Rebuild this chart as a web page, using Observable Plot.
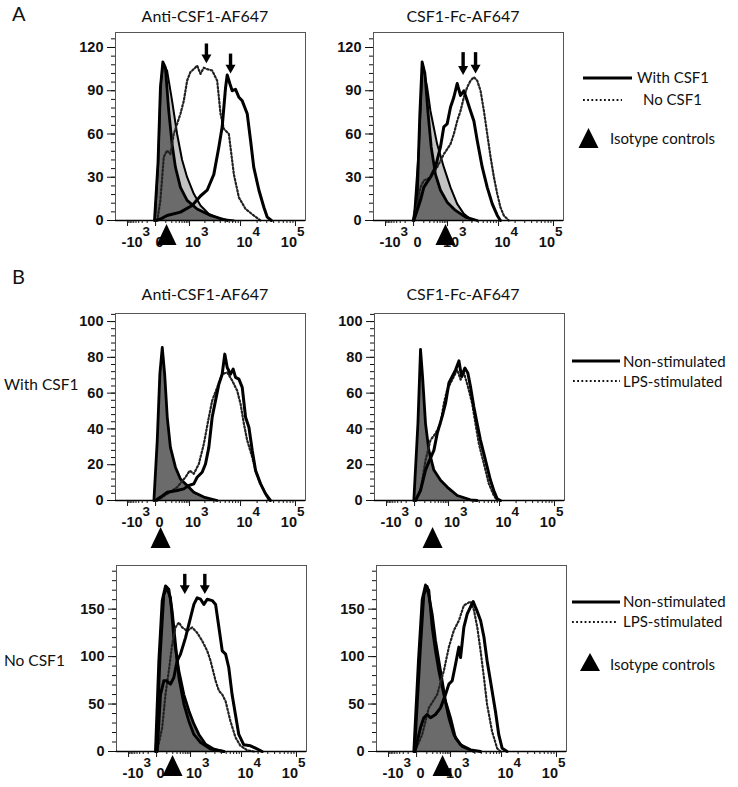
<!DOCTYPE html>
<html><head><meta charset="utf-8">
<script src="https://cdn.jsdelivr.net/npm/d3@7"></script>
<script src="https://cdn.jsdelivr.net/npm/@observablehq/plot@0.6"></script>
<style>
body{margin:0;background:#fff;}
#fig{position:relative;width:738px;height:787px;overflow:hidden;background:#fff;}
#fig > svg{position:absolute;overflow:visible;}
</style></head><body><div id="fig"></div>
<script>
// ---------- axis definitions (FlowJo-style biexponential display channels 0..1024) ----------
const xTickChannels = [65, 216, 399, 674, 970];
const xTickBase = ["-10", "0", "10", "10", "10"];
const xTickExp = ["3", "", "3", "4", "5"];

const yTicksA = [0, 30, 60, 90, 120];
const yTicksBtop = [0, 20, 40, 60, 80, 100];
const yTicksBbot = [0, 50, 100, 150];

// ---------- histogram data: [channel, count] ----------
// Panel A, Anti-CSF1-AF647
const aL_isoDark = [[210,0],[229,40],[242,92],[255,110],[269,106],[287,76],[305,53],[323,37],[350,23],[386,14],[440,8],[512,3.5],[602,0]];
const aL_isoLight = [[212,0],[230,40],[244,95],[257,108],[278,104],[305,83],[332,60],[359,42],[386,30],[422,18.5],[458,10.4],[503,4.6],[566,1],[638,0]];
const aL_withCSF1 = [[216,0],[242,1],[278,3.5],[350,5.8],[413,10.4],[458,17],[494,21],[530,32],[557,51],[575,65],[593,92],[602,101],[616,95],[629,90],[647,91],[665,85.5],[683,83],[710,74],[728,55.5],[745,37],[773,21],[800,9],[818,2.3],[840,0]];
const aL_noCSF1 = [[225,0],[242,14],[260,44],[278,48.6],[296,46],[314,60],[332,67],[350,74],[368,83],[386,97],[404,103],[422,105],[440,107.5],[458,101.7],[476,106],[494,105],[521,104],[548,97],[566,74],[584,63.6],[611,60],[638,32],[665,16],[701,8],[745,3.5],[781,0]];
const aL_arrows = [{x:490, top:120, tip:109}, {x:620, top:113, tip:102}];

// Panel A, CSF1-Fc-AF647
const aR_isoDark = [[214,0],[235,14],[249,72],[262,110],[277,102],[293,76],[311,51],[334,32],[361,21],[397,12.7],[442,7],[496,2.3],[559,0]];
const aR_isoLight = [[217,0],[244,48.6],[265,108.7],[289,92.5],[307,76],[343,53],[379,37],[415,23],[451,11.5],[487,4.6],[532,0]];
const aR_withCSF1 = [[217,0],[253,14],[271,23],[289,26.6],[307,30],[334,37],[361,51],[379,65],[397,67],[415,78.6],[433,85.5],[451,95],[469,86.7],[487,90],[505,83],[523,76],[541,69],[559,55.5],[586,37],[613,23],[640,11.5],[667,3.5],[684,0]];
const aR_noCSF1 = [[220,0],[253,23],[271,27.7],[307,30],[343,37],[379,46],[415,53],[433,60],[451,69],[469,76],[487,85.5],[505,92.5],[523,97],[541,99.4],[559,97],[577,90],[595,76],[613,60],[631,44],[649,30],[667,18.5],[684,9.2],[702,3.5],[729,0]];
const aR_arrows = [{x:483, top:114, tip:101}, {x:550, top:114, tip:102}];

// Panel B, With CSF1, Anti-CSF1-AF647
const bTL_iso = [[207,0],[225,33.5],[239,70.6],[252,85.5],[265,70.6],[279,46.5],[296,29.7],[323,18.6],[350,12],[386,8.4],[422,4.6],[476,1.9],[548,0]];
const bTL_non = [[216,0],[243,1.9],[279,4.6],[332,5.6],[368,6.5],[395,8.4],[422,9.3],[440,13],[467,15.8],[485,20.4],[503,29.7],[521,46.5],[539,55.8],[557,65],[575,70.6],[589,81.8],[602,74.3],[620,70.6],[634,73.4],[647,68.8],[665,67.8],[683,63.2],[701,46.5],[719,40.9],[737,27.9],[755,16.7],[782,9.3],[809,3.7],[835,0]];
const bTL_lps = [[225,0],[279,3.7],[332,7.4],[377,13],[400,16.7],[422,14.9],[449,20.4],[476,31.6],[503,46.5],[521,55.8],[548,63.2],[575,70.6],[602,71.6],[629,67],[656,61.3],[674,54],[692,42.8],[710,33.5],[737,24.2],[755,16.7],[782,9.3],[809,3.7],[827,0]];

// Panel B, With CSF1, CSF1-Fc-AF647
const bTR_iso = [[212,0],[234,43],[248,84.4],[259,69.4],[275,43],[293,28],[320,17],[356,11.3],[392,7.5],[446,2.8],[517,0.4],[553,0]];
const bTR_non = [[221,0],[248,5.6],[275,17],[293,21.6],[320,28],[338,37.5],[365,47],[383,54.4],[401,65.7],[419,69.4],[437,73],[455,78],[469,69.4],[487,74],[503,71.3],[517,63.8],[535,52.5],[553,43],[571,33.8],[589,26.3],[607,18.8],[625,11.3],[643,5.6],[661,1],[679,0]];
const bTR_lps = [[221,0],[248,5.6],[275,22.5],[302,33.8],[329,37.5],[356,43],[374,54.4],[392,62],[419,67.5],[446,73],[464,67.5],[482,71.3],[503,63.8],[526,54.4],[544,43],[562,32],[580,24.4],[598,17],[616,9.4],[643,2.8],[661,0]];

// Panel B, No CSF1, Anti-CSF1-AF647
const bBL_iso1 = [[210,0],[228,95.5],[246,159],[264,174.6],[282,171],[300,148],[318,113],[336,78],[363,50],[390,32],[417,18],[453,9.5],[507,2.5],[579,0]];
const bBL_iso2 = [[213,0],[235,100],[255,165],[270,172.8],[291,162],[309,120],[336,85],[363,60],[390,43],[417,29],[444,18],[480,7.7],[525,2.5],[579,0]];
const bBL_non = [[219,0],[237,60],[255,74.5],[270,74.5],[291,71],[309,78],[327,95.5],[345,102.6],[372,120],[399,141],[417,155],[435,162],[453,160.5],[471,155],[489,160.5],[516,159],[534,155],[552,130.7],[570,106],[588,102.6],[605,88.5],[623,60],[641,39],[659,18],[686,7],[722,6],[749,3.5],[785,0]];
const bBL_lps = [[219,0],[246,25],[264,60],[282,85],[300,113],[318,130.7],[336,136],[354,130.7],[381,127],[408,130.7],[435,125],[462,116.6],[489,106],[507,95.5],[534,74.5],[552,64],[570,60],[588,53],[614,32],[641,15],[668,6],[704,1.4],[740,0]];
const bBL_arrows = [{x:368, top:183, tip:166}, {x:476, top:183, tip:166}];

// Panel B, No CSF1, CSF1-Fc-AF647
const bBR_iso1 = [[201,0],[226,96],[246,160],[264,175.5],[282,170],[300,131],[318,106],[336,85],[363,60],[390,35.5],[417,17.7],[453,7],[507,1.8],[561,0]];
const bBR_iso2 = [[205,0],[237,110],[255,165],[273,174],[300,145],[318,117],[345,85],[372,53],[399,35.5],[426,14],[462,5.3],[525,0]];
const bBR_non = [[207,0],[237,25],[255,35.5],[273,39],[291,35.5],[318,39],[345,46],[372,60],[390,71],[408,74.5],[426,92],[444,110],[453,99],[471,131],[489,145],[507,152.5],[521,158],[540,149],[561,138],[579,120.6],[596,95.7],[614,74.5],[641,42.5],[659,17.7],[677,3.5],[704,0]];
const bBR_lps = [[207,0],[246,17.7],[282,46],[327,60],[363,85],[390,110],[417,127.7],[444,138],[471,154],[489,156],[507,158],[525,149],[543,131],[561,106],[579,78],[596,49.6],[623,21],[650,3.5],[668,0]];

// isotype-control marker positions (channel)
const isoMarkA = [275, 388];
const isoMarkBtop = [243, 313];
const isoMarkBbot = [302, 356];

// ---------- helpers ----------
const K = 1024 / 190; // channels per pixel of frame width
const tickFont = "'Liberation Sans',Arial,sans-serif";
const [cN, c0, c3, c4, c5] = xTickChannels;
const minorX = [];
for (let m = 2; m <= 9; m++) minorX.push(cN + (c0 - cN) * (1 - Math.log10(m)));
for (let m = 1; m <= 8; m++) minorX.push(c0 + (c3 - c0) * Math.log10(1 + m));
for (let m = 2; m <= 9; m++) { minorX.push(c3 + (c4 - c3) * Math.log10(m)); minorX.push(c4 + (c5 - c4) * Math.log10(m)); }
const labelJoin = [15, 8, 11.5, 12, 1.5];
const xLabels = xTickChannels.map((c, i) => ({c, base: xTickBase[i], exp: xTickExp[i], j: labelJoin[i]}));

const upTri = {draw(ctx, size) { const r = Math.sqrt(size / Math.PI); const w = 2 * r, h = 2.1 * r;
  ctx.moveTo(0, -h / 2); ctx.lineTo(w / 2, h / 2); ctx.lineTo(-w / 2, h / 2); ctx.closePath(); }};
const downHead = {draw(ctx, size) { const r = Math.sqrt(size / Math.PI); const w = 2.5 * r, h = 2.2 * r;
  ctx.moveTo(-w / 2, -h); ctx.lineTo(w / 2, -h); ctx.lineTo(0, 0); ctx.closePath(); }};

const fx = d => d[0], fy = d => d[1];
const fig = document.getElementById("fig");

function panel(p) {
  const ML = 50, MR = 8, MT = 6, MB = 46, W = 190;
  const marks = [];
  for (const a of p.light || []) marks.push(Plot.areaY(a, {x: fx, y: fy, fill: "#c2c2c2"}));
  for (const a of p.dark) marks.push(Plot.areaY(a, {x: fx, y: fy, fill: "#6b6b6b"}));
  for (const a of p.light || []) marks.push(Plot.lineY(a, {x: fx, y: fy, stroke: "#000", strokeWidth: 2}));
  for (const a of p.dark) marks.push(Plot.lineY(a, {x: fx, y: fy, stroke: "#000", strokeWidth: 2.8}));
  marks.push(Plot.lineY(p.dotted, {x: fx, y: fy, stroke: "#222", strokeWidth: 2.2, strokeDasharray: "1.6,2.2"}));
  marks.push(Plot.lineY(p.solid, {x: fx, y: fy, stroke: "#000", strokeWidth: 3, strokeLinejoin: "round"}));
  if (p.arrows) {
    marks.push(Plot.link(p.arrows, {x1: "x", x2: "x", y1: "top", y2: "tip", stroke: "#000", strokeWidth: 3.4, dy: -4}));
    marks.push(Plot.dot(p.arrows, {x: "x", y: "tip", symbol: downHead, r: 4, fill: "#000", stroke: "none"}));
  }
  marks.push(Plot.frame({stroke: "#555", strokeWidth: 1}));
  marks.push(Plot.ruleY([0], {stroke: "#000", strokeWidth: 1.6}));
  marks.push(Plot.axisY({ticks: p.yTicks, tickSize: 8, tickPadding: 4, label: null, fontSize: 14.5, fontWeight: "bold", fontFamily: tickFont, fill: "#111"}));
  marks.push(Plot.axisY({ticks: p.yMinor, tickSize: 4, tickFormat: () => "", label: null}));
  marks.push(Plot.axisX({ticks: xTickChannels, tickSize: 6, tickFormat: () => "", label: null}));
  marks.push(Plot.axisX({ticks: minorX, tickSize: 3, tickFormat: () => "", label: null}));
  marks.push(Plot.text(xLabels, {x: d => d.c + d.j * K, frameAnchor: "bottom", dy: 26.5, lineAnchor: "bottom", textAnchor: "end", text: "base", fontSize: 14.5, fontWeight: "bold", fontFamily: tickFont, fill: "#111"}));
  marks.push(Plot.text(xLabels, {x: d => d.c + d.j * K, frameAnchor: "bottom", dy: 15.5, lineAnchor: "bottom", textAnchor: "start", text: "exp", fontSize: 13.5, fontWeight: "bold", fontFamily: tickFont, fill: "#111"}));
  marks.push(Plot.dot([p.tri], {x: d => d, frameAnchor: "bottom", dy: p.triDy, symbol: upTri, r: 10, fill: "#000", stroke: "none"}));
  const svg = Plot.plot({
    width: W + ML + MR, height: p.frameH + MT + MB,
    marginLeft: ML, marginRight: MR, marginTop: MT, marginBottom: MB,
    x: {domain: [0, 1024]}, y: {domain: [0, p.yMax]},
    style: {background: "transparent", overflow: "visible", color: "#111"},
    marks
  });
  svg.style.left = (p.left - ML) + "px";
  svg.style.top = (p.top - MT) + "px";
  fig.appendChild(svg);
}
const minors = (step, max) => d3.range(0, max + 0.001, step);

panel({left: 115, top: 32, frameH: 188, yMax: 130.4, yTicks: yTicksA, yMinor: minors(6, 130), dark: [aL_isoDark], light: [aL_isoLight], solid: aL_withCSF1, dotted: aL_noCSF1, arrows: aL_arrows, tri: isoMarkA[0], triDy: 14});
panel({left: 373, top: 32, frameH: 188, yMax: 130.4, yTicks: yTicksA, yMinor: minors(6, 130), dark: [aR_isoDark], light: [aR_isoLight], solid: aR_withCSF1, dotted: aR_noCSF1, arrows: aR_arrows, tri: isoMarkA[1], triDy: 14});
panel({left: 115, top: 313, frameH: 187, yMax: 104.5, yTicks: yTicksBtop, yMinor: minors(4, 104), dark: [bTL_iso], solid: bTL_non, dotted: bTL_lps, tri: isoMarkBtop[0], triDy: 37});
panel({left: 374, top: 313, frameH: 187, yMax: 104.5, yTicks: yTicksBtop, yMinor: minors(4, 104), dark: [bTR_iso], solid: bTR_non, dotted: bTR_lps, tri: isoMarkBtop[1], triDy: 37});
panel({left: 116, top: 565, frameH: 186, yMax: 196, yTicks: yTicksBbot, yMinor: minors(10, 195), dark: [bBL_iso2, bBL_iso1], solid: bBL_non, dotted: bBL_lps, arrows: bBL_arrows, tri: isoMarkBbot[0], triDy: 14});
panel({left: 376, top: 565, frameH: 186, yMax: 196, yTicks: yTicksBbot, yMinor: minors(10, 195), dark: [bBR_iso2, bBR_iso1], solid: bBR_non, dotted: bBR_lps, tri: isoMarkBbot[1], triDy: 14});

// ---------- titles, row labels and legends ----------
const ov = d3.create("svg").attr("width", 738).attr("height", 787)
  .style("left", "0px").style("top", "0px")
  .attr("font-family", "Lato, 'Open Sans', sans-serif").attr("fill", "#111");
const txt = (x, y, s, size, anchor = "start") => ov.append("text").attr("x", x).attr("y", y)
  .attr("font-size", size).attr("text-anchor", anchor).text(s);
txt(12, 21, "A", 20);
txt(12, 284, "B", 20);
txt(205, 21.5, "Anti-CSF1-AF647", 16, "middle");
txt(463, 21.5, "CSF1-Fc-AF647", 16, "middle");
txt(205, 300, "Anti-CSF1-AF647", 16, "middle");
txt(463, 300, "CSF1-Fc-AF647", 16, "middle");
txt(4, 390, "With CSF1", 15.5);
txt(4, 666, "No CSF1", 15.5);

const solidLine = (x1, x2, y) => ov.append("line").attr("x1", x1).attr("x2", x2).attr("y1", y).attr("y2", y).attr("stroke", "#000").attr("stroke-width", 3);
const dotLine = (x1, x2, y) => ov.append("line").attr("x1", x1).attr("x2", x2).attr("y1", y).attr("y2", y).attr("stroke", "#111").attr("stroke-width", 2.2).attr("stroke-dasharray", "1.8,2.4");
const tri = (cx, top, bottom, w) => ov.append("path").attr("d", `M${cx},${top}L${cx + w / 2},${bottom}L${cx - w / 2},${bottom}Z`).attr("fill", "#000");

solidLine(583, 632, 78); txt(637, 82.5, "With CSF1", 15);
dotLine(583, 622, 100); txt(643, 105, "No CSF1", 15);
tri(588.5, 128, 148, 20); txt(610, 144, "Isotype controls", 15);

solidLine(572, 620, 361); txt(623, 366.5, "Non-stimulated", 15);
dotLine(573, 620, 381); txt(623, 386.5, "LPS-stimulated", 15);

solidLine(572, 620, 602); txt(623, 607, "Non-stimulated", 15);
dotLine(572, 618, 622); txt(623, 627, "LPS-stimulated", 15);
tri(590, 653, 671, 20); txt(610, 670, "Isotype controls", 15);

fig.insertBefore(ov.node(), fig.firstChild);
</script></body></html>
